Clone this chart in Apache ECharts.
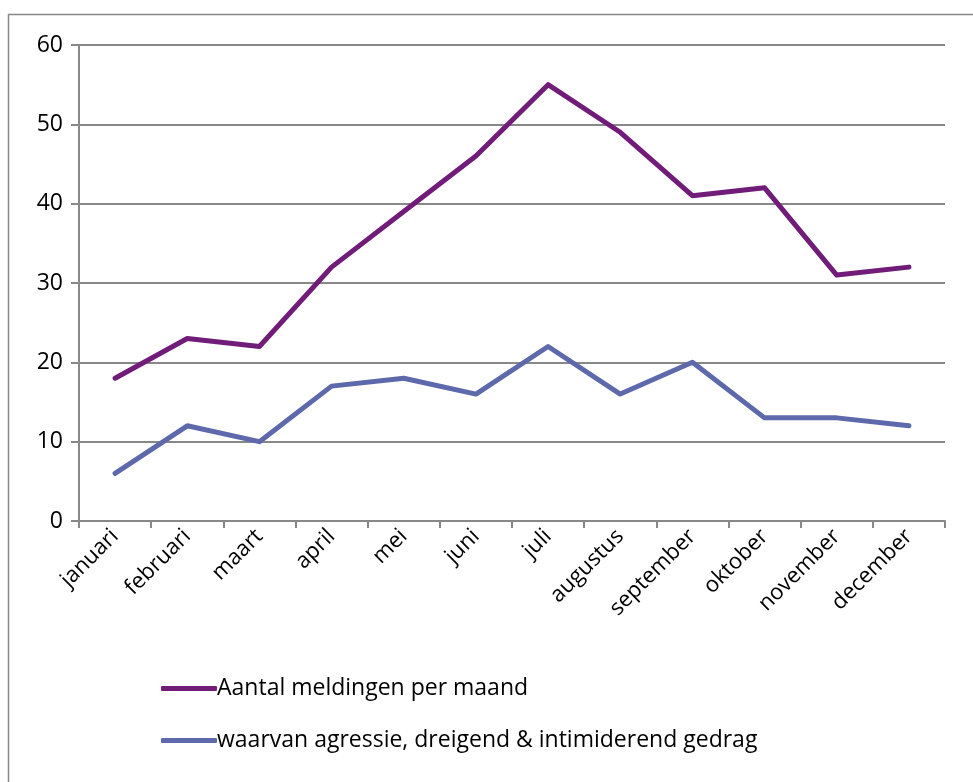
<!DOCTYPE html>
<html>
<head>
<meta charset="utf-8">
<script src="https://cdn.jsdelivr.net/npm/echarts@6/dist/echarts.min.js"></script>
<style>
  html, body { margin: 0; padding: 0; background: #fff; }
  #chart { width: 973px; height: 782px; }
</style>
</head>
<body>
<div id="chart"></div>
<script>
const maanden = ['januari', 'februari', 'maart', 'april', 'mei', 'juni', 'juli', 'augustus', 'september', 'oktober', 'november', 'december']
const meldingen = [18, 23, 22, 32, 39, 46, 55, 49, 41, 42, 31, 32]
const agressie = [6, 12, 10, 17, 18, 16, 22, 16, 20, 13, 13, 12]
const namen = ['Aantal meldingen per maand', 'waarvan agressie, dreigend & intimiderend gedrag']

const font = 'Open Sans, Noto Sans, sans-serif'
const grijs = '#888888'

const chart = echarts.init(document.getElementById('chart'))

chart.setOption({
  animation: false,
  graphic: [
    {
      type: 'rect',
      shape: { x: 8.5, y: 14.5, width: 980, height: 800 },
      style: { fill: 'none', stroke: grijs, lineWidth: 1.5 }
    }
  ],
  grid: { left: 79, right: 28, top: 45, bottom: 261 },
  legend: {
    orient: 'vertical',
    left: 156,
    top: 672,
    itemGap: 29,
    itemWidth: 56,
    itemHeight: 5,
    icon: 'roundRect',
    textStyle: { fontFamily: font, fontSize: 23, color: '#000', padding: [0, 0, 0, -5] },
    data: namen
  },
  xAxis: {
    type: 'category',
    data: maanden,
    boundaryGap: true,
    axisLine: { lineStyle: { color: grijs, width: 2 } },
    axisTick: { show: true, length: 7, lineStyle: { color: grijs, width: 2 } },
    axisLabel: { rotate: 45, fontFamily: font, fontSize: 22, color: '#000', margin: 12, interval: 0 }
  },
  yAxis: {
    type: 'value',
    min: 0,
    max: 60,
    interval: 10,
    axisLine: { show: true, lineStyle: { color: grijs, width: 2 } },
    axisTick: { show: true, length: 8, lineStyle: { color: grijs, width: 2 } },
    axisLabel: { fontFamily: font, fontSize: 23, color: '#000', margin: 16 },
    splitLine: { lineStyle: { color: grijs, width: 2 } }
  },
  series: [
    {
      name: namen[0],
      type: 'line',
      data: meldingen,
      symbol: 'none',
      lineStyle: { color: '#701c78', width: 5, cap: 'round', join: 'round' },
      itemStyle: { color: '#701c78' }
    },
    {
      name: namen[1],
      type: 'line',
      data: agressie,
      symbol: 'none',
      lineStyle: { color: '#5e69ac', width: 5, cap: 'round', join: 'round' },
      itemStyle: { color: '#5e69ac' }
    }
  ]
})

window.addEventListener('resize', () => {
  chart.resize()
})
</script>
</body>
</html>
